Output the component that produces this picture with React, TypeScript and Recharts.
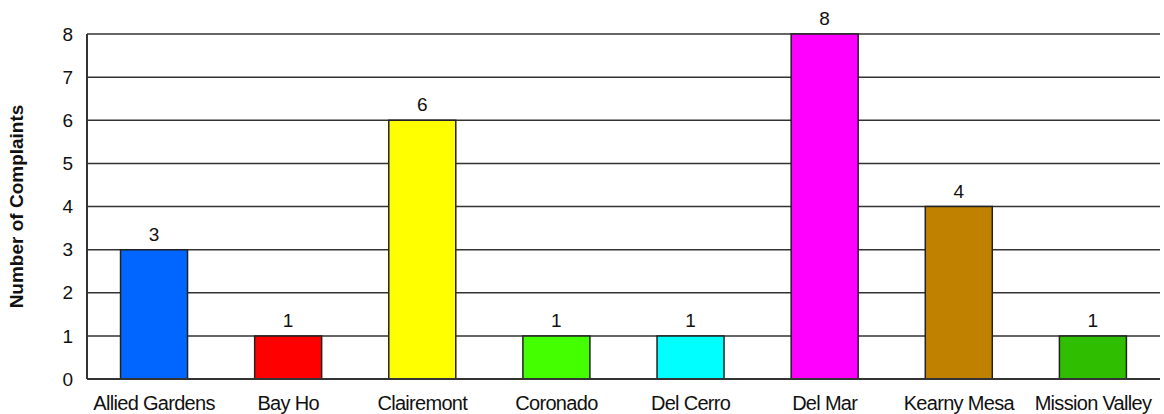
import { Bar, BarChart, CartesianGrid, Cell, LabelList, XAxis, YAxis } from "recharts";

const neighborhoods = [
  "Allied Gardens",
  "Bay Ho",
  "Clairemont",
  "Coronado",
  "Del Cerro",
  "Del Mar",
  "Kearny Mesa",
  "Mission Valley",
];
const complaints = [3, 1, 6, 1, 1, 8, 4, 1];
const barColors = [
  "#0066ff",
  "#ff0000",
  "#ffff00",
  "#44ff00",
  "#00ffff",
  "#ff00ff",
  "#c08000",
  "#2fbf00",
];
const yTicks = [0, 1, 2, 3, 4, 5, 6, 7, 8];

const data = neighborhoods.map((name, i) => ({ name, value: complaints[i] }));

const font = "'Liberation Sans', Arial, sans-serif";
const tickStyle = { fill: "#111", fontSize: 19, fontFamily: font };

export default function App() {
  return (
    <div style={{ position: "absolute", left: 0, top: 0, background: "#fff" }}>
      <BarChart
        width={1164}
        height={414}
        data={data}
        barCategoryGap="25%"
        margin={{ top: 34, right: 4, left: 0, bottom: 4 }}
      >
        <CartesianGrid vertical={false} stroke="#333" strokeWidth={1.5} />
        <XAxis
          dataKey="name"
          axisLine={{ stroke: "#333", strokeWidth: 2 }}
          tickLine={false}
          interval={0}
          tickMargin={11}
          height={31}
          tick={{ ...tickStyle, fontSize: 20, letterSpacing: -0.7 }}
        />
        <YAxis
          domain={[0, 8]}
          ticks={yTicks}
          width={87}
          axisLine={{ stroke: "#333", strokeWidth: 2 }}
          tickLine={false}
          tickMargin={8}
          tick={tickStyle}
          label={{
            value: "Number of Complaints",
            angle: -90,
            position: "insideLeft",
            offset: 16,
            style: {
              textAnchor: "middle",
              fontSize: 19,
              fontWeight: "bold",
              fontFamily: font,
              fill: "#111",
            },
          }}
        />
        <YAxis
          yAxisId="right"
          orientation="right"
          domain={[0, 8]}
          width={0}
          tick={false}
          tickLine={false}
          axisLine={{ stroke: "#333", strokeWidth: 2 }}
        />
        <Bar dataKey="value" stroke="#222" strokeWidth={1.5} isAnimationActive={false}>
          {data.map((d, i) => (
            <Cell key={d.name} fill={barColors[i]} />
          ))}
          <LabelList
            dataKey="value"
            position="top"
            offset={9}
            style={{ fill: "#111", fontSize: 19, fontFamily: font }}
          />
        </Bar>
      </BarChart>
    </div>
  );
}
